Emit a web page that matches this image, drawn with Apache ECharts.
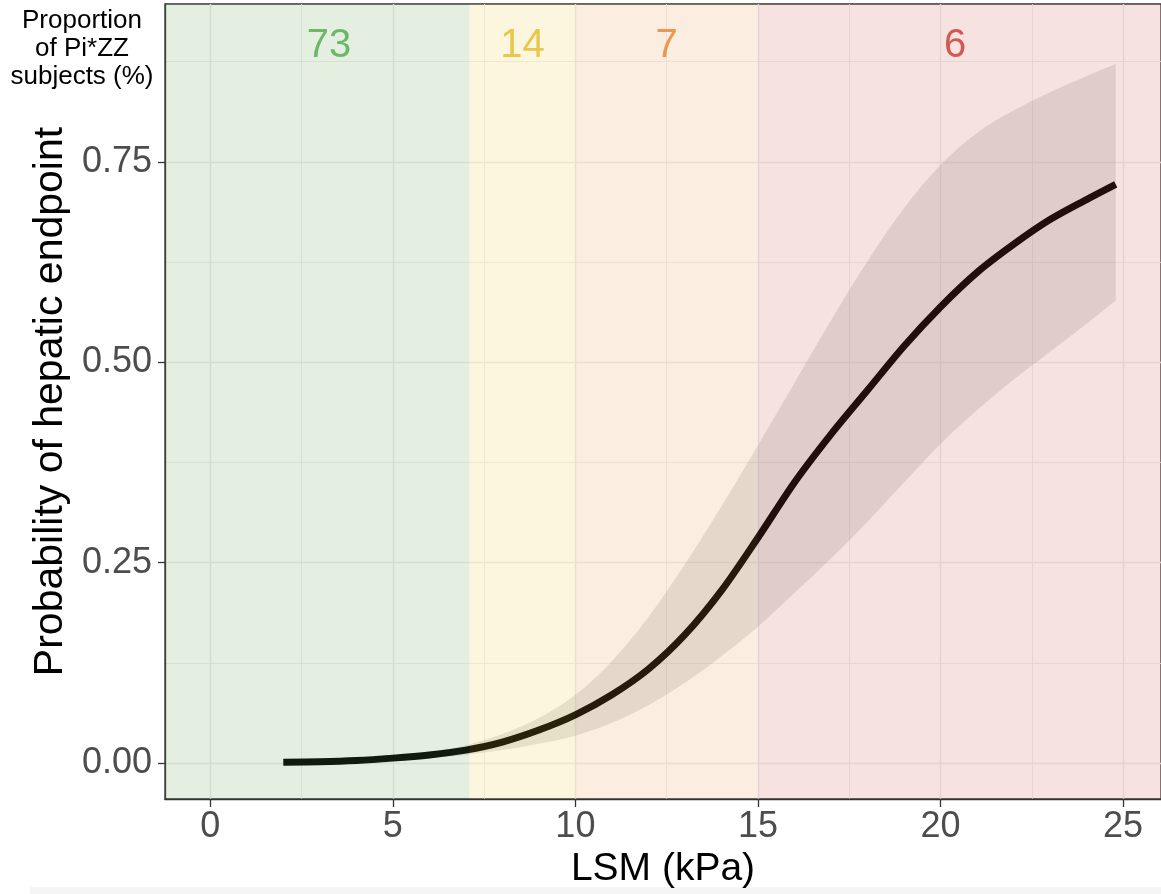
<!DOCTYPE html>
<html>
<head>
<meta charset="utf-8">
<script src="https://cdn.jsdelivr.net/npm/echarts@6/dist/echarts.min.js"></script>
<style>
html,body{margin:0;padding:0;background:#fff;}
#chart{width:1161px;height:894px;}
</style>
</head>
<body>
<div id="chart"></div>
<script>
// ---- data ----
const lsm      = [2, 3, 4, 5, 6, 7, 8, 9, 10, 11, 12, 13, 14, 15, 16, 17, 18, 19, 20, 21, 22, 23, 24, 24.8];
const prob     = [0.001, 0.0015, 0.003, 0.006, 0.010, 0.016, 0.026, 0.041, 0.060, 0.085, 0.117, 0.160, 0.215, 0.281, 0.350, 0.410, 0.465, 0.520, 0.569, 0.612, 0.647, 0.678, 0.703, 0.722];
const ciLower  = [0.0002, 0.0005, 0.001, 0.003, 0.006, 0.010, 0.016, 0.024, 0.034, 0.050, 0.072, 0.100, 0.133, 0.170, 0.212, 0.255, 0.301, 0.350, 0.398, 0.440, 0.478, 0.513, 0.548, 0.577];
const ciUpper  = [0.001, 0.002, 0.004, 0.008, 0.013, 0.022, 0.036, 0.056, 0.085, 0.127, 0.182, 0.248, 0.320, 0.396, 0.474, 0.552, 0.626, 0.692, 0.746, 0.786, 0.814, 0.837, 0.857, 0.872];
const bandFrom   = [null, 7.1, 10, 15];     // null = panel edge
const bandTo     = [7.1, 10, 15, null];
const groupPct   = ['73', '14', '7', '6'];
const groupPctX  = [3.25, 8.55, 12.5, 20.4];
const groupPctY  = [0.895, 0.895, 0.895, 0.895];
const xTicks = [0, 5, 10, 15, 20, 25];
const yTicks = [0, 0.25, 0.5, 0.75];

// ---- styles ----
const X_MIN = -1.24, X_MAX = 26.04, Y_MIN = -0.045, Y_MAX = 0.947;
const bandFill  = ['rgba(96,161,84,0.17)', 'rgba(237,202,67,0.17)', 'rgba(231,155,73,0.17)', 'rgba(208,84,84,0.17)'];
const textColor = ['#4DAA48', '#E3BC23', '#E5832B', '#C8372D'];
const FONT = '"Liberation Sans", Arial, Helvetica, sans-serif';

// smooth path through pixel points (Catmull-Rom -> cubic Bezier)
function splinePath(pts, moveFirst) {
  let d = (moveFirst ? 'M' : 'L') + pts[0][0].toFixed(2) + ' ' + pts[0][1].toFixed(2);
  for (let i = 0; i < pts.length - 1; i++) {
    const p0 = pts[Math.max(i - 1, 0)], p1 = pts[i], p2 = pts[i + 1], p3 = pts[Math.min(i + 2, pts.length - 1)];
    const c1 = [p1[0] + (p2[0] - p0[0]) / 6, p1[1] + (p2[1] - p0[1]) / 6];
    const c2 = [p2[0] - (p3[0] - p1[0]) / 6, p2[1] - (p3[1] - p1[1]) / 6];
    d += ' C' + c1[0].toFixed(2) + ' ' + c1[1].toFixed(2) + ' ' + c2[0].toFixed(2) + ' ' + c2[1].toFixed(2) + ' ' + p2[0].toFixed(2) + ' ' + p2[1].toFixed(2);
  }
  return d;
}

const chart = echarts.init(document.getElementById('chart'), null, {renderer: 'canvas'});

const option = {
  animation: false,
  backgroundColor: '#ffffff',
  grid: {
    left: 165, top: 4, right: -2, bottom: 95,
    show: true, backgroundColor: '#ffffff', borderColor: '#333333', borderWidth: 1.3
  },
  xAxis: {
    type: 'value', min: X_MIN, max: X_MAX,
    minInterval: 5, maxInterval: 5, splitNumber: 5,
    name: 'LSM (kPa)', nameLocation: 'middle', nameGap: 50,
    nameTextStyle: {fontFamily: FONT, fontSize: 39, color: '#000'},
    axisLine: {show: true, onZero: false, lineStyle: {color: '#333333', width: 1.3}},
    axisTick: {show: true, length: 8, lineStyle: {color: '#333333', width: 1.3}, customValues: xTicks},
    axisLabel: {fontFamily: FONT, fontSize: 36, color: '#4D4D4D', margin: 10, customValues: xTicks,
      formatter: v => String(v)},
    splitLine: {show: true, lineStyle: {color: '#EBEBEB', width: 1.4}},
    minorTick: {show: false, splitNumber: 2},
    minorSplitLine: {show: true, lineStyle: {color: '#EBEBEB', width: 0.9}}
  },
  yAxis: {
    type: 'value', min: Y_MIN, max: Y_MAX,
    minInterval: 0.25, maxInterval: 0.25,
    name: 'Probability of hepatic endpoint', nameLocation: 'middle', nameGap: 87,
    nameTextStyle: {fontFamily: FONT, fontSize: 41, color: '#000'},
    axisLine: {show: true, onZero: false, lineStyle: {color: '#333333', width: 1.3}},
    axisTick: {show: true, length: 7, lineStyle: {color: '#333333', width: 1.3}, customValues: yTicks},
    axisLabel: {fontFamily: FONT, fontSize: 36, color: '#4D4D4D', margin: 13, customValues: yTicks,
      formatter: v => v.toFixed(2)},
    splitLine: {show: true, lineStyle: {color: '#EBEBEB', width: 1.4}},
    minorTick: {show: false, splitNumber: 2},
    minorSplitLine: {show: true, lineStyle: {color: '#EBEBEB', width: 0.9}}
  },
  series: [
    {
      name: 'ci', type: 'custom', z: 2, silent: true,
      data: [[lsm[0], ciLower[0]]],
      renderItem: function (params, api) {
        const up = lsm.map((x, i) => api.coord([x, ciUpper[i]]));
        const lo = lsm.map((x, i) => api.coord([x, ciLower[i]])).reverse();
        const d = splinePath(up, true) + ' ' + splinePath(lo, false) + ' Z';
        return {type: 'path', shape: {pathData: d}, style: {fill: 'rgba(153,153,153,0.25)'}};
      }
    },
    {
      name: 'prob', type: 'line', z: 3,
      data: lsm.map((x, i) => [x, prob[i]]),
      symbol: 'none', smooth: 0.3,
      lineStyle: {color: '#000000', width: 7, cap: 'butt'}
    },
    {
      name: 'bands', type: 'custom', z: 10, silent: true,
      data: bandFrom.map((f, i) => [f === null ? X_MIN : f, bandTo[i] === null ? X_MAX : bandTo[i]]),
      encode: {x: [0, 1]},
      renderItem: function (params, api) {
        const cs = params.coordSys;
        const i = params.dataIndex;
        const x0 = bandFrom[i] === null ? cs.x : api.coord([api.value(0), 0])[0];
        const x1 = bandTo[i] === null ? cs.x + cs.width : api.coord([api.value(1), 0])[0];
        return {type: 'rect', shape: {x: x0, y: cs.y, width: x1 - x0, height: cs.height},
                style: {fill: bandFill[i]}};
      }
    },
    {
      name: 'pct', type: 'scatter', z: 20, silent: true,
      symbolSize: 0,
      data: groupPct.map((t, i) => ({
        value: [groupPctX[i], groupPctY[i]],
        label: {show: true, position: 'inside', formatter: t, color: textColor[i],
                fontFamily: FONT, fontSize: 40}
      }))
    }
  ],
  graphic: [
    {type: 'text', z: 30, position: [82, 7],
     style: {text: 'Proportion\nof Pi*ZZ\nsubjects (%)', x: 0, y: 0,
             font: '26px ' + FONT, fill: '#000', textAlign: 'center', lineHeight: 28}},
    {type: 'rect', z: -1, shape: {x: 30, y: 887, width: 1131, height: 7}, style: {fill: '#F5F5F5'}}
  ]
};
chart.setOption(option);
</script>
</body>
</html>
